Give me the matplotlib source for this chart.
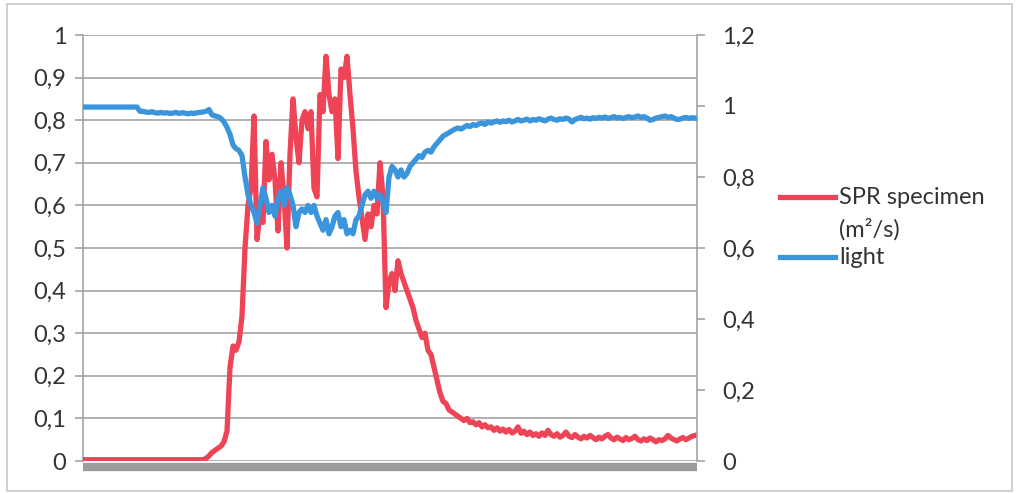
import numpy as np
import matplotlib
matplotlib.use("Agg")
import matplotlib.pyplot as plt
from matplotlib.lines import Line2D
from matplotlib.patches import Rectangle

plt.rcParams["font.family"] = ["Lato", "DejaVu Sans"]

# =====================================================
# DATA
# =====================================================

SPR_LABEL = "SPR specimen"
SPR_UNIT = "(m²/s)"
LIGHT_LABEL = "light"

# SPR specimen (left axis)
spr = [
    0.003, 0.003, 0.003, 0.003, 0.003, 0.003, 0.003, 0.003, 0.003, 0.003,
    0.003, 0.003, 0.003, 0.003, 0.003, 0.003, 0.003, 0.003, 0.003, 0.003,
    0.003, 0.003, 0.003, 0.003, 0.003, 0.003, 0.003, 0.003, 0.003, 0.003,
    0.003, 0.003, 0.003, 0.003, 0.003, 0.003, 0.003, 0.003, 0.003, 0.003,
    0.003, 0.006, 0.012, 0.02, 0.025, 0.03, 0.035, 0.045, 0.07, 0.22,
    0.27, 0.26, 0.28, 0.34, 0.50, 0.60, 0.64, 0.81, 0.52, 0.58,
    0.56, 0.75, 0.66, 0.72, 0.66, 0.54, 0.70, 0.62, 0.50, 0.72,
    0.85, 0.76, 0.70, 0.80, 0.82, 0.78, 0.82, 0.64, 0.62, 0.86,
    0.82, 0.95, 0.86, 0.82, 0.85, 0.71, 0.92, 0.90, 0.95, 0.86,
    0.78, 0.68, 0.62, 0.57, 0.52, 0.58, 0.55, 0.60, 0.58, 0.70,
    0.62, 0.36, 0.42, 0.44, 0.40, 0.47, 0.44, 0.42, 0.40, 0.38,
    0.36, 0.33, 0.31, 0.29, 0.30, 0.26, 0.25, 0.22, 0.19, 0.16,
    0.14, 0.135, 0.12, 0.115, 0.11, 0.105, 0.10, 0.095, 0.10, 0.09,
    0.092, 0.085, 0.09, 0.08, 0.085, 0.078, 0.08, 0.072, 0.078, 0.07,
    0.075, 0.068, 0.074, 0.066, 0.07, 0.08, 0.065, 0.07, 0.062, 0.068,
    0.06, 0.064, 0.058, 0.066, 0.06, 0.072, 0.062, 0.058, 0.064, 0.056,
    0.06, 0.068, 0.058, 0.055, 0.062, 0.056, 0.052, 0.058, 0.054, 0.06,
    0.055, 0.05, 0.056, 0.052, 0.058, 0.062, 0.054, 0.05, 0.056, 0.052,
    0.048, 0.055, 0.05, 0.053, 0.058, 0.05, 0.047, 0.052, 0.048, 0.054,
    0.05, 0.045, 0.05, 0.048, 0.052, 0.06, 0.054, 0.05, 0.047, 0.052,
    0.055, 0.05, 0.054, 0.058, 0.06,
]

# light (right axis)
light = [
    0.997, 0.997, 0.997, 0.997, 0.997, 0.997, 0.997, 0.997, 0.997, 0.997,
    0.997, 0.997, 0.997, 0.997, 0.997, 0.997, 0.997, 0.997, 0.997, 0.985,
    0.985, 0.983, 0.982, 0.984, 0.981, 0.98, 0.982, 0.98, 0.981, 0.979,
    0.98, 0.982, 0.979, 0.981, 0.98, 0.978, 0.98, 0.979, 0.981, 0.982,
    0.983, 0.985, 0.99, 0.975, 0.972, 0.97, 0.965, 0.955, 0.94, 0.92,
    0.89, 0.88, 0.875, 0.86, 0.80, 0.75, 0.72, 0.70, 0.67, 0.72,
    0.77, 0.74, 0.70, 0.72, 0.69, 0.74, 0.76, 0.72, 0.77, 0.75,
    0.72, 0.66, 0.70, 0.71, 0.70, 0.72, 0.70, 0.72, 0.69, 0.67,
    0.65, 0.68, 0.64, 0.66, 0.69, 0.70, 0.66, 0.68, 0.64, 0.65,
    0.64, 0.68, 0.69, 0.72, 0.75, 0.76, 0.74, 0.76, 0.74, 0.75,
    0.73, 0.70, 0.80, 0.83, 0.82, 0.80, 0.82, 0.80, 0.81, 0.83,
    0.84, 0.85, 0.86, 0.855, 0.87, 0.875, 0.87, 0.885, 0.895, 0.905,
    0.915, 0.92, 0.925, 0.93, 0.935, 0.938, 0.935, 0.94, 0.945, 0.942,
    0.948, 0.945, 0.95, 0.952, 0.948, 0.955, 0.952, 0.955, 0.958, 0.954,
    0.958, 0.956, 0.96, 0.955, 0.958, 0.962, 0.958, 0.96, 0.963, 0.958,
    0.962, 0.96, 0.964, 0.961, 0.958, 0.963, 0.966, 0.962, 0.96, 0.964,
    0.962, 0.966, 0.963, 0.955, 0.962, 0.965, 0.968, 0.964, 0.966, 0.963,
    0.967, 0.965, 0.968, 0.966, 0.969, 0.965, 0.967, 0.97, 0.966, 0.968,
    0.965, 0.968, 0.97, 0.967, 0.969, 0.972, 0.968, 0.97, 0.966, 0.96,
    0.962, 0.966, 0.968, 0.97, 0.972, 0.968, 0.97, 0.966, 0.962, 0.963,
    0.966, 0.968, 0.965, 0.967, 0.966,
]

left_ticks = [0, 0.1, 0.2, 0.3, 0.4, 0.5, 0.6, 0.7, 0.8, 0.9, 1.0]
right_ticks = [0, 0.2, 0.4, 0.6, 0.8, 1.0, 1.2]

# =====================================================
# STYLE
# =====================================================

RED = "#ef4356"
BLUE = "#3a95dc"
GRID = "#a3a3a3"
TEXT = "#333333"
FS = 17
LW = 3.8

W, H = 1016, 493


def comma(v):
    s = f"{v:g}"
    return s.replace(".", ",")


fig = plt.figure(figsize=(W / 100, H / 100), dpi=100)
fig.patch.set_facecolor("white")

ax = fig.add_axes([83 / W, 1 - 461 / H, (697 - 83) / W, (461 - 35) / H])
ax2 = ax.twinx()

x_spr = np.arange(len(spr))
x_light = np.arange(len(light))

ax.plot(x_spr, spr, color=RED, lw=LW, solid_joinstyle="round", zorder=3)
ax2.plot(x_light, light, color=BLUE, lw=LW, solid_joinstyle="round", zorder=3)

n = max(len(spr), len(light))
ax.set_xlim(0, n - 1 + 0.67)
ax.set_ylim(0, 1.0)
ax2.set_ylim(0, 1.2)

# --- left axis ---
ax.set_yticks(left_ticks)
ax.set_yticklabels([comma(v) for v in left_ticks])
ax.set_xticks([])
ax.tick_params(axis="y", direction="out", length=6, width=1.2, color=GRID,
               labelsize=FS, labelcolor=TEXT, pad=6)
ax.yaxis.grid(True, color=GRID, lw=1.2)
ax.set_axisbelow(True)

for side in ["top", "right"]:
    ax.spines[side].set_visible(False)
ax.spines["left"].set_color(GRID)
ax.spines["left"].set_linewidth(1.2)
ax.spines["bottom"].set_color("#9c9c9c")
ax.spines["bottom"].set_linewidth(6)
ax.spines["bottom"].set_position(("outward", 4))
ax.spines["bottom"].set_capstyle("butt")

# --- right axis ---
ax2.set_yticks(right_ticks)
ax2.set_yticklabels([comma(v) for v in right_ticks])
ax2.tick_params(axis="y", direction="out", length=6, width=1.2, color=GRID,
                labelsize=FS, labelcolor=TEXT, pad=12)
for side in ["top", "left", "bottom"]:
    ax2.spines[side].set_visible(False)
ax2.spines["right"].set_color(GRID)
ax2.spines["right"].set_linewidth(1.2)

# --- legend (drawn by hand, handle sits on first text line) ---
def px(x, y):
    return x / W, 1 - y / H


for y, color in [(197, RED), (257, BLUE)]:
    (x0, yy), (x1, _) = px(780, y), px(835, y)
    fig.add_artist(Line2D([x0, x1], [yy, yy], color=color, lw=LW,
                          transform=fig.transFigure))

for y, label in [(197, SPR_LABEL), (229, SPR_UNIT), (257, LIGHT_LABEL)]:
    tx, ty = px(839, y)
    fig.text(tx, ty, label, fontsize=FS, color=TEXT, va="center", ha="left")

# --- outer frame ---
fig.patches.append(Rectangle(px(7, 491), (1012 - 7) / W, (491 - 4) / H,
                             fill=False, edgecolor="#c8c8c8", lw=1.2,
                             transform=fig.transFigure))

fig.savefig("out.png", dpi=100)
